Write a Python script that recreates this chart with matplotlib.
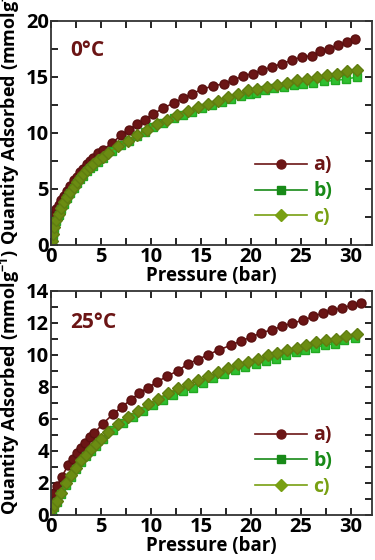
import numpy as np
import matplotlib.pyplot as plt
from matplotlib.ticker import MultipleLocator

plt.rcParams['font.family'] = ['Open Sans', 'DejaVu Sans']
plt.rcParams['font.weight'] = 'bold'
plt.rcParams['mathtext.fontset'] = 'custom'
plt.rcParams['mathtext.rm'] = 'Open Sans:bold'
plt.rcParams['mathtext.bf'] = 'Open Sans:bold'
plt.rcParams['mathtext.default'] = 'bf'

# 0 °C data
p0_a = [0.05, 0.15, 0.3, 0.5, 0.75, 1.0, 1.3, 1.6, 1.9, 2.3, 2.6, 2.9, 3.2, 3.6, 3.9, 4.2, 4.7, 5.2,
        6.1, 7.0, 7.8, 8.6, 9.4, 10.2, 11.2, 12.3, 13.2, 14.1, 15.1, 16.2, 17.3, 18.2, 19.2, 20.2,
        21.1, 22.1, 23.1, 24.1, 25.1, 26.1, 26.9, 27.8, 28.7, 29.6, 30.4]
q0_a = [1.7, 2.2, 2.7, 3.2, 3.6, 4.0, 4.4, 4.8, 5.3, 5.8, 6.1, 6.5, 6.8, 7.2, 7.5, 7.8, 8.2, 8.5,
        9.1, 9.8, 10.3, 10.8, 11.2, 11.7, 12.2, 12.7, 13.1, 13.5, 13.9, 14.2, 14.4, 14.7, 15.1, 15.3,
        15.6, 15.9, 16.2, 16.5, 16.8, 16.9, 17.3, 17.5, 17.86, 18.1, 18.4]
p0_b = [0.05, 0.15, 0.3, 0.5, 0.75, 1.0, 1.3, 1.6, 1.9, 2.3, 2.6, 2.9, 3.2, 3.6, 3.9, 4.2, 4.7, 5.2,
        6.1, 7.0, 7.8, 8.6, 9.4, 10.2, 11.2, 12.3, 13.2, 14.1, 15.1, 16.1, 17.1, 18.0, 19.0, 19.9,
        20.5, 21.4, 22.3, 23.3, 24.3, 25.2, 26.2, 27.3, 28.4, 29.5, 30.6]
q0_b = [0.3, 0.9, 1.5, 2.1, 2.7, 3.2, 3.7, 4.2, 4.6, 5.1, 5.5, 5.9, 6.2, 6.6, 6.85, 7.05, 7.45, 7.8,
        8.4, 8.9, 9.3, 9.7, 10.1, 10.5, 10.9, 11.3, 11.6, 11.9, 12.2, 12.5, 12.8, 13.0, 13.3, 13.5,
        13.6, 13.8, 14.0, 14.1, 14.3, 14.4, 14.5, 14.6, 14.7, 14.8, 15.0]
p0_c = [0.05, 0.15, 0.3, 0.5, 0.75, 1.0, 1.3, 1.6, 1.9, 2.3, 2.6, 2.9, 3.2, 3.6, 3.9, 4.2, 4.7, 5.2,
        5.7, 6.7, 7.7, 8.6, 9.6, 10.6, 11.6, 12.6, 13.7, 14.7, 15.7, 16.7, 17.7, 18.7, 19.7, 20.6,
        21.6, 22.6, 23.6, 24.6, 25.6, 26.6, 27.6, 28.6, 29.6, 30.6]
q0_c = [0.4, 1.0, 1.6, 2.2, 2.8, 3.3, 3.8, 4.3, 4.7, 5.2, 5.6, 6.0, 6.3, 6.7, 7.0, 7.2, 7.6, 7.9,
        8.2, 8.8, 9.3, 9.8, 10.3, 10.8, 11.2, 11.6, 12.0, 12.3, 12.6, 12.9, 13.2, 13.5, 13.8, 13.9,
        14.1, 14.3, 14.5, 14.7, 14.8, 15.0, 15.2, 15.3, 15.5, 15.6]

# 25 °C data
p25_a = [0.1, 0.3, 0.6, 1.1, 1.7, 2.2, 2.6, 3.0, 3.4, 3.9, 4.3, 5.2, 6.2, 7.1, 8.0, 8.8, 9.7, 10.6,
         11.6, 12.7, 13.7, 14.7, 15.7, 16.8, 18.0, 19.0, 20.0, 21.0, 22.1, 23.1, 24.1, 25.2, 26.2,
         27.2, 28.1, 29.1, 30.1, 31.0]
q25_a = [1.0, 1.35, 1.8, 2.4, 3.1, 3.5, 3.85, 4.2, 4.5, 4.85, 5.1, 5.7, 6.3, 6.75, 7.2, 7.6, 7.95, 8.3,
         8.66, 9.0, 9.45, 9.7, 10.0, 10.3, 10.6, 10.86, 11.1, 11.36, 11.56, 11.77, 11.98, 12.14, 12.39,
         12.6, 12.77, 12.93, 13.08, 13.22]
p25_b = [0.1, 0.3, 0.6, 1.0, 1.5, 2.0, 2.5, 3.0, 3.5, 4.0, 4.5, 5.2, 6.2, 7.2, 8.2, 9.2, 10.2, 11.2,
         12.2, 13.2, 14.2, 15.2, 16.2, 17.3, 18.4, 19.4, 20.5, 21.5, 22.5, 23.5, 24.5, 25.4, 26.4,
         27.4, 28.4, 29.3, 30.4]
q25_b = [0.25, 0.5, 0.8, 1.3, 1.9, 2.4, 2.85, 3.3, 3.65, 4.0, 4.3, 4.75, 5.3, 5.75, 6.1, 6.5, 6.85, 7.2,
         7.5, 7.75, 7.95, 8.25, 8.55, 8.82, 9.03, 9.24, 9.45, 9.6, 9.75, 9.96, 10.15, 10.3, 10.45,
         10.6, 10.7, 10.9, 11.06]
p25_c = [0.1, 0.3, 0.6, 1.0, 1.5, 2.0, 2.5, 3.0, 3.5, 4.0, 4.5, 5.0, 5.7, 6.7, 7.7, 8.7, 9.7, 10.7,
         11.7, 12.7, 13.7, 14.7, 15.7, 16.7, 17.7, 18.7, 19.7, 20.7, 21.7, 22.6, 23.6, 24.6, 25.5,
         26.5, 27.5, 28.5, 29.5, 30.6]
q25_c = [0.35, 0.6, 0.9, 1.4, 2.0, 2.5, 2.95, 3.4, 3.75, 4.1, 4.4, 4.75, 5.15, 5.65, 6.1, 6.5, 6.9, 7.25,
         7.6, 7.9, 8.15, 8.4, 8.65, 8.9, 9.2, 9.4, 9.55, 9.75, 9.96, 10.1, 10.3, 10.4, 10.6,
         10.8, 10.9, 11.0, 11.2, 11.31]

labels = ['a)', 'b)', 'c)']
colors = ['#6b1515', '#2fbf2f', '#6b8c12']
edges = ['#5a1010', '#22a822', '#5f7d10']
leg_colors = ['#6b1515', '#188a18', '#78a012']
markers = ['o', 's', 'D']
msizes = [6.5, 5.5, 6.5]

fig = plt.figure(figsize=(3.75, 5.6), dpi=100)
ax1 = fig.add_axes([0.136, 0.5625, 0.856, 0.40])
ax2 = fig.add_axes([0.136, 0.0804, 0.856, 0.4006])


def panel(ax, data, ymax, ymaj, ymin, title, ty):
    for (p, q), lab, c, e, m, s in zip(data, labels, colors, edges, markers, msizes):
        ax.plot(p, q, marker=m, color=c, mfc=c, mec=e, ms=s, lw=1.2, label=lab)
    ax.set_xlim(0, 32.1)
    ax.set_ylim(0, ymax)
    ax.xaxis.set_major_locator(MultipleLocator(5))
    ax.xaxis.set_minor_locator(MultipleLocator(2.5))
    ax.yaxis.set_major_locator(MultipleLocator(ymaj))
    ax.yaxis.set_minor_locator(MultipleLocator(ymin))
    ax.tick_params(which='both', direction='in', top=True, right=True, length=5, width=1.2,
                   labelsize=14.5, pad=1.5)
    for sp in ax.spines.values():
        sp.set_linewidth(1.3)
        sp.set_color('#333333')
    for t in ax.get_xticklabels() + ax.get_yticklabels():
        t.set_fontweight('bold')
    ax.set_xlabel('Pressure (bar)', fontsize=13.5, fontweight='bold', labelpad=-1)
    ax.set_ylabel('Quantity Adsorbed (mmolg$^{-1}$)', fontsize=13, fontweight='bold',
                  loc='bottom', labelpad=3)
    ax.text(0.06, ty, title, transform=ax.transAxes, fontsize=15, fontweight='bold',
            color='#6b1515', va='center')
    leg = ax.legend(loc='lower right', bbox_to_anchor=(0.9, 0.045), frameon=False, handlelength=2.7,
                    labelspacing=0.3, fontsize=14, handletextpad=0.3, borderaxespad=0)
    for txt, h, c in zip(leg.get_texts(), leg.legend_handles, leg_colors):
        txt.set_color(c)
        txt.set_fontweight('bold')
        h.set_color(c)
        h.set_markerfacecolor(c)
        h.set_markeredgecolor(c)


panel(ax1, [(p0_a, q0_a), (p0_b, q0_b), (p0_c, q0_c)], 20, 5, 2.5, '0°C', 0.87)
panel(ax2, [(p25_a, q25_a), (p25_b, q25_b), (p25_c, q25_c)], 14, 2, 1, '25°C', 0.857)

fig.savefig('out.png', dpi=100)
